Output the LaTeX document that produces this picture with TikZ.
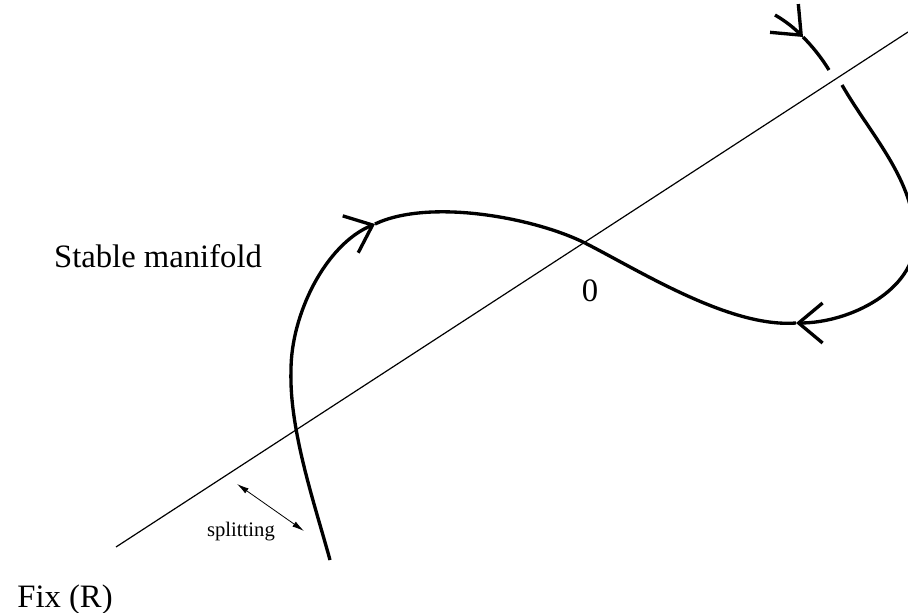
\documentclass[tikz,border=0pt]{standalone}
\usepackage{fontspec}
\setmainfont{Liberation Serif}
\usetikzlibrary{arrows.meta}

\begin{document}
\begin{tikzpicture}[x=0.75pt,y=-0.75pt,
  curve/.style={line width=2.5pt},
  barb/.style={-{Straight Barb[length=18pt,width=30pt]}},
  lbl/.style={font=\fontsize{24.5}{28}\selectfont,anchor=base,inner sep=0pt}]
  \useasboundingbox (0,0) rectangle (908,613);
  \coordinate (fixa) at (116,547);
  \coordinate (fixb) at (908,32);
  \coordinate (o) at (585,243);
  \coordinate (tl) at (375,224);
  \coordinate (tr) at (796,323);
  \coordinate (tt) at (803,37);
  \draw[line width=0.9pt] (fixa) -- (fixb);
  % left branch
  \draw[curve,barb] (330,560) .. controls (315,505) and (289,430) .. (291,370)
    .. controls (291,315) and (325,245) .. (tl);
  \draw[curve] (tl) .. controls (430,198) and (535,218) .. (o);
  % right branch, broken where it passes the line
  \draw[curve,barb] (775,15) .. controls (787,22) and (795,29) .. (tt);
  \draw[curve] (tt) .. controls (812,46) and (821,57) .. (829,70);
  \draw[curve,barb] (842,85) .. controls (872,137) and (915,180) .. (915,240)
    .. controls (915,290) and (850,323) .. (tr);
  \draw[curve] (tr) .. controls (730,328) and (640,271) .. (o);
  \node[lbl] (stable) at (158,268) {Stable manifold};
  \node[lbl] (zero) at (590,301) {0};
  \node[lbl] (fix) at (65,607) {Fix (R)};
  \node[lbl,font=\fontsize{15.5}{18}\selectfont] (split) at (241,536) {splitting};
  \coordinate (spa) at (237,484);
  \coordinate (spb) at (304,531);
  \draw[{Latex[length=9pt,width=4.5pt]}-{Latex[length=9pt,width=4.5pt]},line width=0.6pt] (spa) -- (spb);
\end{tikzpicture}
\end{document}
